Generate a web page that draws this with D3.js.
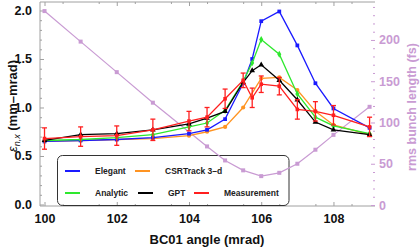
<!DOCTYPE html>
<html>
<head>
<meta charset="utf-8">
<script src="https://cdn.jsdelivr.net/npm/d3@7/dist/d3.min.js"></script>
<style>
  body { margin: 0; background: #fff; }
  svg { display: block; font-family: "Liberation Sans", Arial, sans-serif; }
</style>
</head>
<body>
<svg id="chart" width="420" height="249"></svg>
<script>
// angles (mrad) where emittance was simulated / measured
const angles = [100, 101, 102, 103, 104, 104.5, 105, 105.5, 105.75, 106, 106.5, 107, 107.5, 108, 109];

const elegant  = [0.65, 0.66, 0.67, 0.69, 0.73, 0.77, 0.88, 1.25, 1.50, 1.89, 1.99, 1.64, 1.25, 0.99, 0.79];
const analytic = [0.66, 0.67, 0.69, 0.72, 0.80, 0.84, 0.97, 1.27, 1.46, 1.70, 1.55, 1.14, 0.90, 0.81, 0.73];
const gpt      = [0.66, 0.72, 0.73, 0.77, 0.83, 0.89, 0.96, 1.26, 1.38, 1.44, 1.28, 1.08, 0.85, 0.77, 0.72];
const csrtrack = [0.65, 0.66, 0.67, 0.68, 0.71, 0.75, 0.80, 1.00, null, 1.30, 1.31, 1.18, 0.96, 0.82, 0.72];

const measured = [0.68, 0.70, 0.71, 0.77, 0.86, 0.90, 1.09, 1.28, 1.10, 1.24, 1.22, 0.98, 0.96, 0.92, 0.80];
const measErr  = [0.11, 0.10, 0.10, 0.11, 0.10, 0.10, 0.10, 0.075, 0.10, 0.085, 0.09, 0.10, 0.10, 0.10, 0.10];

// rms bunch length (fs), right axis
const bunchAngles = [100, 101, 102, 103, 104.5, 105, 105.5, 106, 106.5, 107, 107.5, 108, 109];
const bunchLength = [235, 198, 161, 124, 71, 54, 42, 35, 39, 50, 67, 85, 119];

const leftTicks = [0, 0.5, 1.0, 1.5, 2.0];
const rightTicks = [0, 50, 100, 150, 200];
const xTicks = [100, 102, 104, 106, 108];

const svg = d3.select("#chart");

const x = d3.scaleLinear().domain([99.875, 109.15]).range([40, 375]);
const yL = d3.scaleLinear().domain([-0.0155, 2.0876]).range([206, 2]);
const yR = d3.scaleLinear().domain([-1.2, 246]).range([206, 2]);

const axisGrey = "#a0a0a0";
const purple = "#c99bd3";

// frame: left, bottom, top lines
svg.append("line").attr("x1", 40).attr("x2", 40).attr("y1", 2).attr("y2", 206).attr("stroke", axisGrey);
svg.append("line").attr("x1", 40).attr("x2", 375).attr("y1", 206).attr("y2", 206).attr("stroke", axisGrey);
svg.append("line").attr("x1", 40).attr("x2", 375).attr("y1", 2).attr("y2", 2).attr("stroke", axisGrey);

// bottom axis
const xAxis = svg.append("g").attr("transform", "translate(0,206)")
  .call(d3.axisBottom(x).tickValues(xTicks).tickSize(-4).tickPadding(8).tickFormat(d3.format("d")));
xAxis.select(".domain").remove();
xAxis.selectAll(".tick line").attr("stroke", axisGrey);
xAxis.selectAll("text").attr("font-size", 12.5).attr("font-weight", "bold").attr("fill", "#111");
svg.append("g").attr("transform", "translate(0,206)")
  .call(d3.axisBottom(x).tickValues(d3.range(100.5, 109.1, 1)).tickSize(-2).tickFormat(""))
  .call(g => g.select(".domain").remove())
  .selectAll(".tick line").attr("stroke", axisGrey);

// top axis ticks
svg.append("g").attr("transform", "translate(0,2)")
  .call(d3.axisTop(x).tickValues(xTicks).tickSize(-4).tickFormat(""))
  .call(g => g.select(".domain").remove())
  .selectAll(".tick line").attr("stroke", axisGrey);
svg.append("g").attr("transform", "translate(0,2)")
  .call(d3.axisTop(x).tickValues(d3.range(100.5, 109.1, 1)).tickSize(-2).tickFormat(""))
  .call(g => g.select(".domain").remove())
  .selectAll(".tick line").attr("stroke", axisGrey);

// left axis
const yAxisL = svg.append("g").attr("transform", "translate(40,0)")
  .call(d3.axisLeft(yL).tickValues(leftTicks).tickSize(-4).tickPadding(8).tickFormat(d3.format(".1f")));
yAxisL.select(".domain").remove();
yAxisL.selectAll(".tick line").attr("stroke", axisGrey);
yAxisL.selectAll("text").attr("font-size", 12.5).attr("font-weight", "bold").attr("fill", "#111");
svg.append("g").attr("transform", "translate(40,0)")
  .call(d3.axisLeft(yL).tickValues(d3.range(0.1, 2.05, 0.1).filter(v => Math.abs(v * 2 - Math.round(v * 2)) > 0.01)).tickSize(-2).tickFormat(""))
  .call(g => g.select(".domain").remove())
  .selectAll(".tick line").attr("stroke", axisGrey);

// right axis
const yAxisR = svg.append("g").attr("transform", "translate(375,0)")
  .call(d3.axisRight(yR).tickValues(rightTicks).tickSize(-4).tickPadding(4));
yAxisR.select(".domain").remove();
yAxisR.selectAll(".tick line").attr("stroke", purple);
yAxisR.selectAll("text").attr("font-size", 12.5).attr("font-weight", "bold").attr("fill", purple);
svg.append("g").attr("transform", "translate(375,0)")
  .call(d3.axisRight(yR).tickValues(d3.range(10, 241, 10).filter(v => v % 50 !== 0)).tickSize(-2).tickFormat(""))
  .call(g => g.select(".domain").remove())
  .selectAll(".tick line").attr("stroke", purple);

// axis titles
svg.append("text").attr("x", 207).attr("y", 244).attr("text-anchor", "middle")
  .attr("font-size", 13).attr("font-weight", "bold").attr("fill", "#111").text("BC01 angle (mrad)");

const yt = svg.append("text").attr("transform", "translate(17,106) rotate(-90)")
  .attr("text-anchor", "middle").attr("font-size", 13).attr("font-weight", "bold").attr("fill", "#111");
yt.append("tspan").attr("font-style", "italic").attr("font-weight", "normal").text("ε");
yt.append("tspan").attr("font-style", "italic").attr("font-weight", "normal").attr("font-size", 9).attr("dy", 3).text("n,x");
yt.append("tspan").attr("dy", -3).text(" (mm–mrad)");

svg.append("text").attr("transform", "translate(416,107) rotate(-90)")
  .attr("text-anchor", "middle").attr("font-size", 12.5).attr("font-weight", "bold").attr("fill", purple)
  .text("rms bunch length (fs)");

// legend box (drawn under the data)
svg.append("rect").attr("x", 57.5).attr("y", 155.5).attr("width", 231.5).attr("height", 50)
  .attr("rx", 5).attr("fill", "none").attr("stroke", "#333").attr("stroke-width", 1);

// bunch length curve (right axis)
const pts = bunchAngles.map((a, i) => [a, bunchLength[i]]);
svg.append("path").datum(pts)
  .attr("d", d3.line().x(d => x(d[0])).y(d => yR(d[1])))
  .attr("fill", "none").attr("stroke", purple).attr("stroke-width", 1.2);
svg.selectAll(".bl").data(pts).join("rect").attr("class", "bl")
  .attr("x", d => x(d[0]) - 2).attr("y", d => yR(d[1]) - 2).attr("width", 4).attr("height", 4)
  .attr("fill", purple);

// emittance series
const series = [
  { name: "CSRTrack 3–d", vals: csrtrack, color: "#ff9422", sym: d3.symbolCircle, size: 14 },
  { name: "Elegant", vals: elegant, color: "#1a1aff", sym: d3.symbolSquare, size: 14 },
  { name: "Analytic", vals: analytic, color: "#2ee82e", sym: d3.symbolDiamond, size: 14 },
  { name: "GPT", vals: gpt, color: "#000000", sym: d3.symbolTriangle, size: 14 }
];

const lineL = d3.line().x(d => x(d[0])).y(d => yL(d[1]));

series.forEach(s => {
  const data = angles.map((a, i) => [a, s.vals[i]]).filter(d => d[1] !== null);
  svg.append("path").datum(data).attr("d", lineL)
    .attr("fill", "none").attr("stroke", s.color).attr("stroke-width", 1.3);
  svg.append("g").selectAll("path").data(data).join("path")
    .attr("transform", d => `translate(${x(d[0])},${yL(d[1])})`)
    .attr("d", d3.symbol(s.sym, s.size)).attr("fill", s.color);
});

// measurement with error bars
const red = "#ff1f1f";
const meas = angles.map((a, i) => [a, measured[i], measErr[i]]);
svg.append("path").datum(meas).attr("d", lineL)
  .attr("fill", "none").attr("stroke", red).attr("stroke-width", 1.3);
const eb = svg.append("g").attr("stroke", red).attr("stroke-width", 1.3);
meas.forEach(d => {
  const cx = x(d[0]);
  const y1 = yL(d[1] + d[2]), y2 = yL(d[1] - d[2]);
  eb.append("line").attr("x1", cx).attr("x2", cx).attr("y1", y1).attr("y2", y2);
  eb.append("line").attr("x1", cx - 2.5).attr("x2", cx + 2.5).attr("y1", y1).attr("y2", y1);
  eb.append("line").attr("x1", cx - 2.5).attr("x2", cx + 2.5).attr("y1", y2).attr("y2", y2);
});
svg.append("g").selectAll("rect").data(meas).join("rect")
  .attr("x", d => x(d[0]) - 1.8).attr("y", d => yL(d[1]) - 1.8).attr("width", 3.6).attr("height", 3.6)
  .attr("fill", red);

// legend entries
const legend = [
  { name: "Elegant", color: "#1a1aff", lx: 65, tx: 95, y: 171 },
  { name: "CSRTrack 3–d", color: "#ff9422", lx: 135, tx: 165, y: 171 },
  { name: "Analytic", color: "#2ee82e", lx: 65, tx: 95, y: 193 },
  { name: "GPT", color: "#000000", lx: 138, tx: 168, y: 193 },
  { name: "Measurement", color: red, lx: 194, tx: 224, y: 193 }
];
legend.forEach(l => {
  svg.append("line").attr("x1", l.lx).attr("x2", l.lx + 15).attr("y1", l.y).attr("y2", l.y)
    .attr("stroke", l.color).attr("stroke-width", 2);
  svg.append("text").attr("x", l.tx).attr("y", l.y + 3).attr("font-size", 8.5).attr("font-weight", "bold")
    .attr("fill", "#222").text(l.name);
});
</script>
</body>
</html>
